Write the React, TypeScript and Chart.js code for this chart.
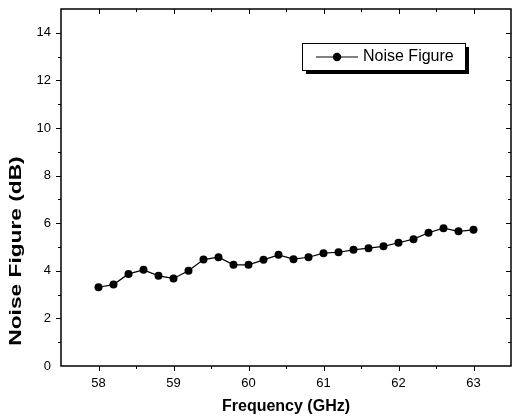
import React, { useEffect, useRef } from "react";
import { Chart, registerables } from "chart.js";

Chart.register(...registerables);

const frequencies = [58.0, 58.2, 58.4, 58.6, 58.8, 59.0, 59.2, 59.4, 59.6, 59.8, 60.0, 60.2, 60.4, 60.6, 60.8, 61.0, 61.2, 61.4, 61.6, 61.8, 62.0, 62.2, 62.4, 62.6, 62.8, 63.0];
const noiseFigure = [3.31, 3.42, 3.87, 4.04, 3.79, 3.68, 4.0, 4.47, 4.57, 4.25, 4.25, 4.46, 4.67, 4.49, 4.57, 4.74, 4.78, 4.88, 4.95, 5.03, 5.18, 5.33, 5.6, 5.79, 5.66, 5.72];
const xTicks = [58, 59, 60, 61, 62, 63];
const yTicks = [0, 2, 4, 6, 8, 10, 12, 14];
const seriesLabel = "Noise Figure";
const xTitle = "Frequency (GHz)";
const yTitle = "Noise Figure (dB)";

const FONT = "'Liberation Sans', Arial, sans-serif";

const framePlugin = {
  id: "frame",
  afterDraw(chart: any) {
    const { ctx, chartArea: a, scales } = chart;
    const xs = scales.x;
    const ys = scales.y;
    ctx.save();
    ctx.strokeStyle = "#000";
    ctx.lineWidth = 1.5;
    ctx.strokeRect(a.left, a.top, a.right - a.left, a.bottom - a.top);
    ctx.lineWidth = 1;
    ctx.beginPath();
    for (let v = 57.5; v <= 63.5001; v += 0.5) {
      const px = Math.round(xs.getPixelForValue(v)) + 0.5;
      const major = Math.abs(v - Math.round(v)) < 1e-6;
      const len = major ? 5 : 3;
      if (px <= a.left + 1 || px >= a.right - 1) continue;
      ctx.moveTo(px, a.bottom);
      ctx.lineTo(px, a.bottom + len);
      ctx.moveTo(px, a.top);
      ctx.lineTo(px, a.top + len);
    }
    for (let v = 1; v <= 15; v += 1) {
      const py = Math.round(ys.getPixelForValue(v)) + 0.5;
      const major = v % 2 === 0;
      const len = major ? 5 : 3;
      if (py <= a.top + 1) continue;
      ctx.moveTo(a.left, py);
      ctx.lineTo(a.left - len, py);
      ctx.moveTo(a.right, py);
      ctx.lineTo(a.right - len, py);
    }
    ctx.stroke();

    // y axis title (stretched vertically like the reference)
    ctx.save();
    ctx.translate(17, 251);
    ctx.rotate(-Math.PI / 2);
    ctx.scale(1.42, 1);
    ctx.font = `bold 16px ${FONT}`;
    ctx.fillStyle = "#000";
    ctx.textAlign = "center";
    ctx.textBaseline = "middle";
    ctx.fillText(yTitle, 0, 0);
    ctx.restore();

    // legend box
    const bx = 302, by = 43, bw = 163, bh = 27;
    ctx.fillStyle = "#000";
    ctx.fillRect(bx + 4, by + 4, bw, bh);
    ctx.fillStyle = "#fff";
    ctx.fillRect(bx, by, bw, bh);
    ctx.strokeStyle = "#000";
    ctx.lineWidth = 1;
    ctx.strokeRect(bx + 0.5, by + 0.5, bw, bh);
    const ly = by + bh / 2 + 0.5;
    ctx.beginPath();
    ctx.moveTo(bx + 14, ly);
    ctx.lineTo(bx + 56, ly);
    ctx.stroke();
    ctx.beginPath();
    ctx.arc(bx + 35, ly, 4.2, 0, Math.PI * 2);
    ctx.fillStyle = "#000";
    ctx.fill();
    ctx.font = `16px ${FONT}`;
    ctx.textBaseline = "middle";
    ctx.textAlign = "left";
    ctx.fillText(seriesLabel, bx + 61, ly);
    ctx.restore();
  },
};

export default function App() {
  const ref = useRef<HTMLCanvasElement | null>(null);
  useEffect(() => {
    document.body.style.margin = "0";
    const canvas = ref.current!;
    const chart = new Chart(canvas, {
      type: "line",
      data: {
        datasets: [
          {
            label: seriesLabel,
            data: frequencies.map((f, i) => ({ x: f, y: noiseFigure[i] })),
            borderColor: "#000",
            backgroundColor: "#000",
            borderWidth: 1.2,
            pointRadius: 4,
            pointBackgroundColor: "#000",
            pointBorderColor: "#000",
            pointBorderWidth: 0,
            tension: 0,
          },
        ],
      },
      options: {
        responsive: false,
        animation: false,
        layout: { autoPadding: false, padding: { top: 9, right: 1, left: 0, bottom: 0 } },
        plugins: { legend: { display: false }, tooltip: { enabled: false } },
        scales: {
          x: {
            type: "linear",
            min: 57.5,
            max: 63.5,
            afterBuildTicks: (s: any) => {
              s.ticks = xTicks.map((v) => ({ value: v }));
            },
            afterFit: (s: any) => {
              s.height = 54;
              s.paddingLeft = 0;
              s.paddingRight = 0;
              s.paddingTop = 0;
              s.paddingBottom = 0;
            },
            grid: { display: false, drawTicks: false },
            border: { display: false },
            ticks: {
              color: "#000",
              font: { family: FONT, size: 13 },
              padding: 10,
              maxRotation: 0,
              callback: (v: any) => String(v),
            },
            title: {
              display: true,
              text: xTitle,
              color: "#000",
              font: { family: FONT, size: 16, weight: "bold" },
              padding: { top: 2, bottom: 4 },
            },
          },
          y: {
            type: "linear",
            min: 0,
            max: 15,
            afterBuildTicks: (s: any) => {
              s.ticks = yTicks.map((v) => ({ value: v }));
            },
            afterFit: (s: any) => {
              s.width = 61;
              s.paddingLeft = 0;
              s.paddingRight = 0;
              s.paddingTop = 0;
              s.paddingBottom = 0;
            },
            grid: { display: false, drawTicks: false },
            border: { display: false },
            ticks: {
              color: "#000",
              font: { family: FONT, size: 13 },
              padding: 10,
              callback: (v: any) => String(v),
            },
            title: { display: false },
          },
        },
      },
      plugins: [framePlugin],
    });
    return () => chart.destroy();
  }, []);
  return <canvas ref={ref} width={512} height={420} style={{ display: "block" }} />;
}
